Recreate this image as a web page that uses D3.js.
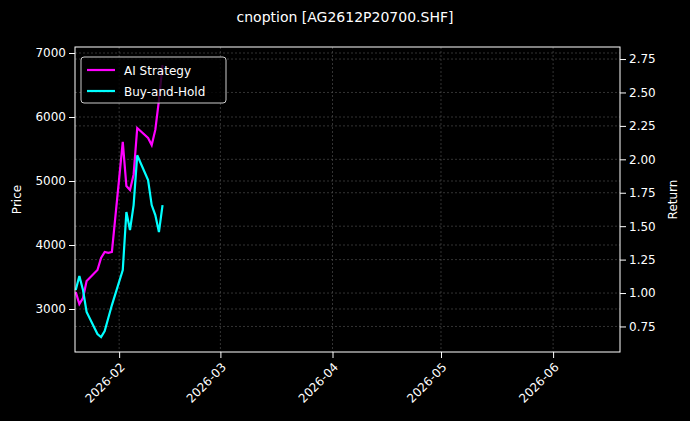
<!DOCTYPE html>
<meta charset="utf-8">
<style>
body { margin: 0; background: #000; }
svg text { fill: #fff; font-family: "DejaVu Sans", sans-serif; }
.axis path, .axis line { stroke: #fff; }
.grid line { stroke: #555; stroke-dasharray: 2,2; stroke-width: 0.6; }
</style>
<svg class="chart" width="690" height="421"></svg>
<script src="https://d3js.org/d3.v7.min.js"></script>
<script>

var dates = ["2026-01-20","2026-01-21","2026-01-22","2026-01-23","2026-01-26","2026-01-27","2026-01-28","2026-01-29","2026-01-30",
             "2026-02-02","2026-02-03","2026-02-04","2026-02-05","2026-02-06","2026-02-09","2026-02-10","2026-02-11","2026-02-12","2026-02-13"];
var aiReturn = [1.007,0.918,0.963,1.09,1.172,1.262,1.307,1.30,1.307,2.13,1.80,1.77,1.885,2.234,2.16,2.107,2.22,2.44,2.705];
var bhReturn = [1.022,1.127,1.022,0.858,0.693,0.671,0.716,0.813,0.91,1.172,1.606,1.471,1.658,2.03,1.845,1.658,1.583,1.456,1.658];
var priceTicks = [3000,4000,5000,6000,7000];
var returnTicks = [0.75,1.00,1.25,1.50,1.75,2.00,2.25,2.50,2.75];
var monthTicks = ["2026-02-01","2026-03-01","2026-04-01","2026-05-01","2026-06-01"];

var parse = d3.timeParse("%Y-%m-%d");
var margin = {top: 47, right: 70, bottom: 69, left: 75},
    width = 690 - margin.left - margin.right,
    height = 421 - margin.top - margin.bottom;

var svg = d3.select(".chart");
var chart = svg.append("g").attr("transform", "translate(" + margin.left + "," + margin.top + ")");

var x = d3.scaleTime().range([0, width]).domain([new Date(2026,0,19,19), new Date(2026,5,19,12)]);
var yP = d3.scaleLinear().range([height, 0]).domain([2328, 7094]);
var yR = d3.scaleLinear().range([height, 0]).domain([0.559, 2.84]);

// grid
chart.append("g").attr("class", "grid").selectAll("line").data(monthTicks).enter().append("line")
  .attr("x1", function(d){ return x(parse(d)); }).attr("x2", function(d){ return x(parse(d)); })
  .attr("y1", 0).attr("y2", height);
chart.append("g").attr("class", "grid").selectAll("line").data(priceTicks).enter().append("line")
  .attr("x1", 0).attr("x2", width).attr("y1", yP).attr("y2", yP);
chart.append("g").attr("class", "grid").selectAll("line").data(returnTicks).enter().append("line")
  .attr("x1", 0).attr("x2", width).attr("y1", yR).attr("y2", yR);

var line = function(vals) {
  return d3.line().x(function(d, i){ return x(parse(dates[i])); }).y(function(d){ return yR(d); })(vals);
};
chart.append("path").attr("d", line(aiReturn)).attr("fill", "none").attr("stroke", "#ff00ff").attr("stroke-width", 2.2);
chart.append("path").attr("d", line(bhReturn)).attr("fill", "none").attr("stroke", "#00ffff").attr("stroke-width", 2.2);

chart.append("rect").attr("width", width).attr("height", height).attr("fill", "none").attr("stroke", "#fff");

var xa = chart.append("g").attr("class", "axis").attr("transform", "translate(0," + height + ")")
  .call(d3.axisBottom(x).tickValues(monthTicks.map(parse)).tickFormat(d3.timeFormat("%Y-%m")).tickSizeOuter(0));
xa.selectAll("text").style("font-size", "12px").attr("text-anchor", "end")
  .attr("x", 0).attr("y", 0).attr("dy", "0.35em").attr("transform", "translate(3,13) rotate(-45)");
chart.append("g").attr("class", "axis")
  .call(d3.axisLeft(yP).tickValues(priceTicks).tickFormat(d3.format("d")).tickSizeOuter(0))
  .selectAll("text").style("font-size", "12px");
chart.append("g").attr("class", "axis").attr("transform", "translate(" + width + ",0)")
  .call(d3.axisRight(yR).tickValues(returnTicks).tickFormat(d3.format(".2f")).tickSizeOuter(0))
  .selectAll("text").style("font-size", "12px");
chart.selectAll(".axis .domain").remove();

svg.append("text").attr("x", 345).attr("y", 22).attr("text-anchor", "middle").style("font-size", "14px")
  .text("cnoption [AG2612P20700.SHF]");
svg.append("text").attr("transform", "translate(21," + (margin.top + height/2) + ") rotate(-90)")
  .attr("text-anchor", "middle").style("font-size", "12px").text("Price");
svg.append("text").attr("transform", "translate(677," + (margin.top + height/2) + ") rotate(-90)")
  .attr("text-anchor", "middle").style("font-size", "12px").text("Return");

// legend
var lg = svg.append("g").attr("transform", "translate(81,57)");
lg.append("rect").attr("width", 145).attr("height", 46).attr("rx", 3).attr("fill", "#000")
  .attr("fill-opacity", 0.8).attr("stroke", "#ccc");
[["AI Strategy", "#ff00ff"], ["Buy-and-Hold", "#00ffff"]].forEach(function(d, i) {
  lg.append("line").attr("x1", 6).attr("x2", 34).attr("y1", 13 + i*21).attr("y2", 13 + i*21)
    .attr("stroke", d[1]).attr("stroke-width", 2.2);
  lg.append("text").attr("x", 43).attr("y", 18 + i*21).style("font-size", "12px").text(d[0]);
});
</script>
